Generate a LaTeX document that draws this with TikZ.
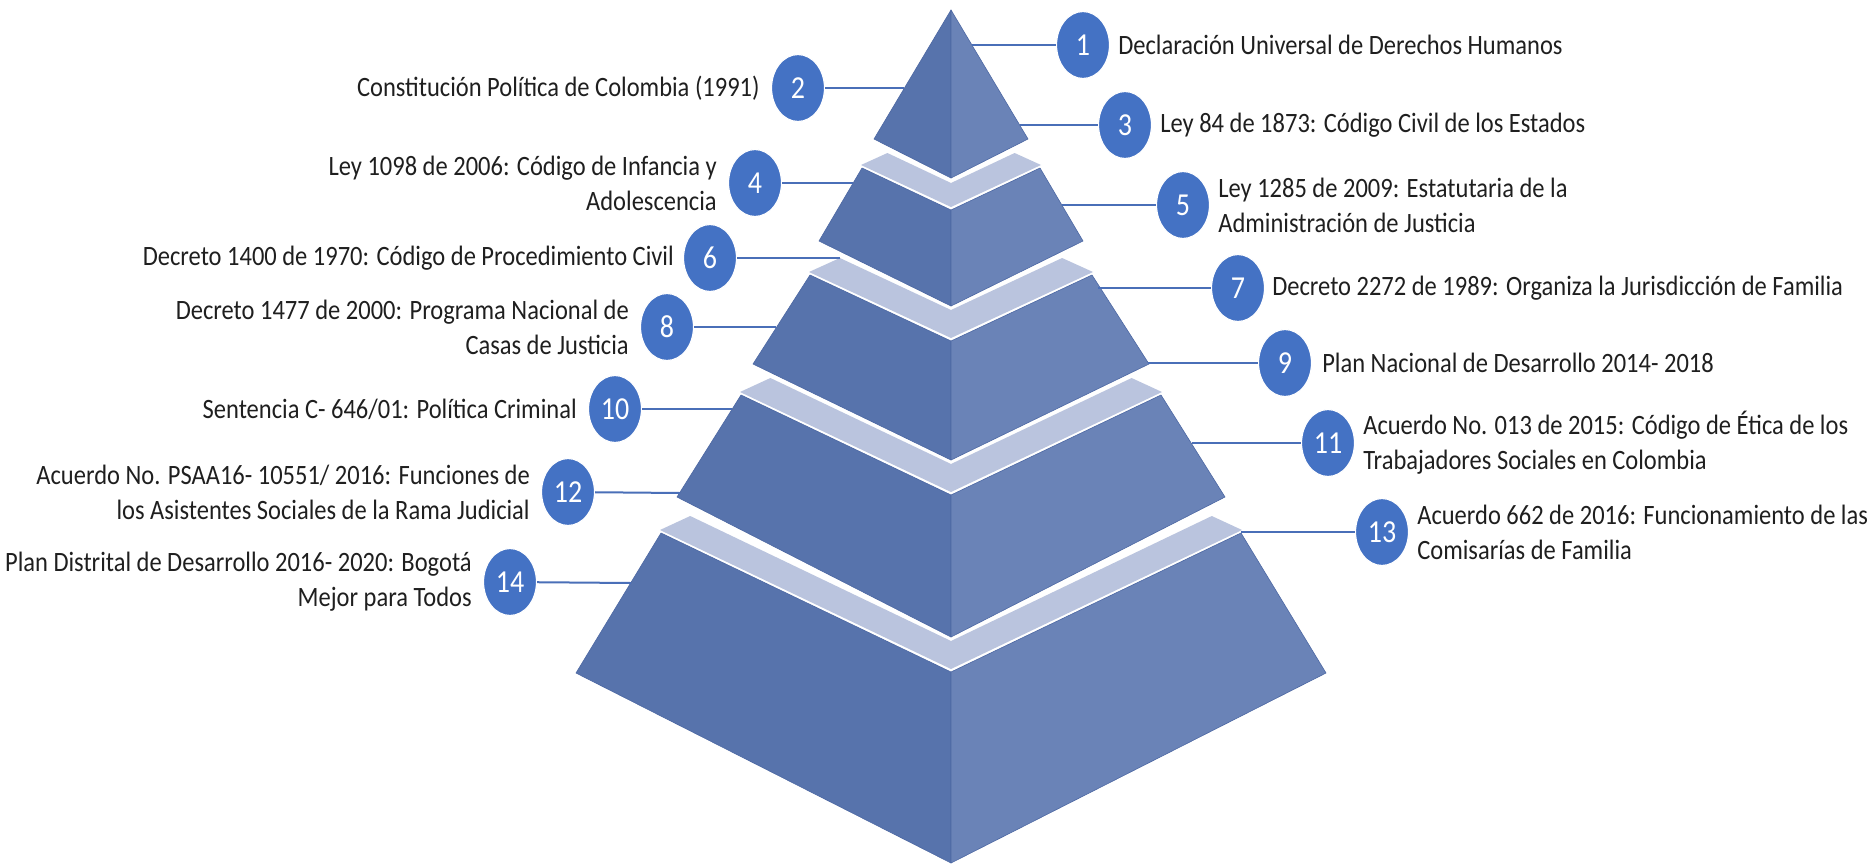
\documentclass[tikz,border=0pt]{standalone}
\usepackage{fontspec}
\setmainfont{Carlito}[FakeStretch=0.875]
\usetikzlibrary{shapes.geometric}
\definecolor{leftface}{HTML}{5773AC}
\definecolor{rightface}{HTML}{6A83B7}
\definecolor{edgecol}{HTML}{4D68A3}
\definecolor{bandcol}{HTML}{BAC4DE}
\definecolor{numblue}{HTML}{4472C4}
\definecolor{lineblue}{HTML}{4A6FB8}
\definecolor{txt}{HTML}{1F1F1F}
\begin{document}
\begin{tikzpicture}[x=1pt,y=-1pt,
  lface/.style={fill=leftface, draw=edgecol, line width=0.6pt, line join=round},
  rface/.style={fill=rightface, draw=edgecol, line width=0.6pt, line join=round},
  bandf/.style={fill=bandcol},
  num/.style={ellipse, fill=numblue, draw=white, line width=1.2pt, minimum width=53pt, minimum height=67pt, inner sep=0pt, text=white, font=\fontsize{32}{32}\selectfont},
  conn/.style={draw=lineblue, line width=2pt},
  lbl/.style={text=txt, font=\fontsize{28}{35}\selectfont, inner sep=0pt},
  lblL/.style={lbl, anchor=east, align=right},
  lblR/.style={lbl, anchor=west, align=left}]
\fill[white] (0,0) rectangle (1874,865);
\useasboundingbox (0,0) rectangle (1874,865);

% ---------- tier corner points ----------
\coordinate (A)   at (951,10);
\coordinate (t1BL) at (874,139); \coordinate (t1BC) at (951,178); \coordinate (t1BR) at (1028,139);
\coordinate (t2TL) at (862,168); \coordinate (t2TC) at (951,210); \coordinate (t2TR) at (1040,168);
\coordinate (t2BL) at (819,241); \coordinate (t2BC) at (951,306); \coordinate (t2BR) at (1083,241);
\coordinate (t3TL) at (810,275); \coordinate (t3TC) at (951,341); \coordinate (t3TR) at (1092,275);
\coordinate (t3BL) at (753,364); \coordinate (t3BC) at (951,460); \coordinate (t3BR) at (1149,364);
\coordinate (t4TL) at (741,395); \coordinate (t4TC) at (951,495); \coordinate (t4TR) at (1161,395);
\coordinate (t4BL) at (677,497); \coordinate (t4BC) at (951,637); \coordinate (t4BR) at (1225,497);
\coordinate (t5TL) at (661,533); \coordinate (t5TC) at (951,672); \coordinate (t5TR) at (1241,533);
\coordinate (t5BL) at (576,673); \coordinate (t5BC) at (951,863); \coordinate (t5BR) at (1326,673);

% ---------- tiers ----------
\path[lface] (A) -- (t1BL) -- (t1BC) -- cycle;
\path[rface] (A) -- (t1BC) -- (t1BR) -- cycle;
\path[lface] (t2TL) -- (t2TC) -- (t2BC) -- (t2BL) -- cycle;
\path[rface] (t2TC) -- (t2TR) -- (t2BR) -- (t2BC) -- cycle;
\path[lface] (t3TL) -- (t3TC) -- (t3BC) -- (t3BL) -- cycle;
\path[rface] (t3TC) -- (t3TR) -- (t3BR) -- (t3BC) -- cycle;
\path[lface] (t4TL) -- (t4TC) -- (t4BC) -- (t4BL) -- cycle;
\path[rface] (t4TC) -- (t4TR) -- (t4BR) -- (t4BC) -- cycle;
\path[lface] (t5TL) -- (t5TC) -- (t5BC) -- (t5BL) -- cycle;
\path[rface] (t5TC) -- (t5TR) -- (t5BR) -- (t5BC) -- cycle;

% ---------- light bands ----------
\path[bandf] (861,165) -- (887.4,153) -- (951,183) -- (1014.6,153) -- (1041,165) -- (951,207) -- cycle;
\path[bandf] (809,272) -- (839.9,258) -- (951,310) -- (1062.1,258) -- (1093,272) -- (951,338) -- cycle;
\path[bandf] (740,392) -- (770.4,378) -- (951,464) -- (1131.6,378) -- (1162,392) -- (951,492) -- cycle;
\path[bandf] (660,530) -- (690.2,516) -- (951,641) -- (1211.8,516) -- (1242,530) -- (951,669) -- cycle;

% ---------- connector ends on the pyramid ----------
\coordinate (e1)  at (972,45);
\coordinate (e2)  at (904,88);
\coordinate (e3)  at (1020,125);
\coordinate (e4)  at (853,183);
\coordinate (e5)  at (1062,205);
\coordinate (e6)  at (840,258);
\coordinate (e7)  at (1098,288);
\coordinate (e8)  at (776,327);
\coordinate (e9)  at (1148,363);
\coordinate (e10) at (732,409);
\coordinate (e11) at (1192,443);
\coordinate (e12) at (680,493);
\coordinate (e13) at (1241,532);
\coordinate (e14) at (631,583);

% ---------- number circles ----------
\node[num] (c1)  at (1083,45)  {1};
\node[num] (c2)  at (798,88)   {2};
\node[num] (c3)  at (1125,125) {3};
\node[num] (c4)  at (755,183)  {4};
\node[num] (c5)  at (1183,205) {5};
\node[num] (c6)  at (710,258)  {6};
\node[num] (c7)  at (1238,288) {7};
\node[num] (c8)  at (667,327)  {8};
\node[num] (c9)  at (1285,363) {9};
\node[num] (c10) at (615,409)  {10};
\node[num] (c11) at (1328,443) {11};
\node[num] (c12) at (568,492)  {12};
\node[num] (c13) at (1382,532) {13};
\node[num] (c14) at (510,582)  {14};

% ---------- connectors ----------
\foreach \i in {1,...,14} { \draw[conn] (e\i) -- (c\i); }

% ---------- labels ----------
\node[lblR] (l1)  at ([xshift=8]c1.east)  {Declaración Universal de Derechos Humanos};
\node[lblL] (l2)  at ([xshift=-11]c2.west) {Constitución Política de Colombia (1991)};
\node[lblR] (l3)  at ([xshift=8]c3.east)  {Ley 84 de 1873: Código Civil de los Estados};
\node[lblL] (l4)  at ([xshift=-11]c4.west) {Ley 1098 de 2006: Código de Infancia y\\Adolescencia};
\node[lblR] (l5)  at ([xshift=8]c5.east)  {Ley 1285 de 2009: Estatutaria de la\\Administración de Justicia};
\node[lblL] (l6)  at ([xshift=-9]c6.west)  {Decreto 1400 de 1970: Código de Procedimiento Civil};
\node[lblR] (l7)  at ([xshift=7]c7.east)  {Decreto 2272 de 1989: Organiza la Jurisdicción de Familia};
\node[lblL] (l8)  at ([xshift=-11]c8.west) {Decreto 1477 de 2000: Programa Nacional de\\Casas de Justicia};
\node[lblR] (l9)  at ([xshift=10]c9.east) {Plan Nacional de Desarrollo 2014- 2018};
\node[lblL] (l10) at ([xshift=-11]c10.west) {Sentencia C- 646/01: Política Criminal};
\node[lblR] (l11) at ([xshift=8]c11.east) {Acuerdo No. 013 de 2015: Código de Ética de los\\Trabajadores Sociales en Colombia};
\node[lblL] (l12) at ([xshift=-11]c12.west) {Acuerdo No. PSAA16- 10551/ 2016: Funciones de\\los Asistentes Sociales de la Rama Judicial};
\node[lblR] (l13) at ([xshift=8]c13.east) {Acuerdo 662 de 2016: Funcionamiento de las\\Comisarías de Familia};
\node[lblL] (l14) at ([xshift=-11]c14.west) {Plan Distrital de Desarrollo 2016- 2020: Bogotá\\Mejor para Todos};
\end{tikzpicture}
\end{document}
